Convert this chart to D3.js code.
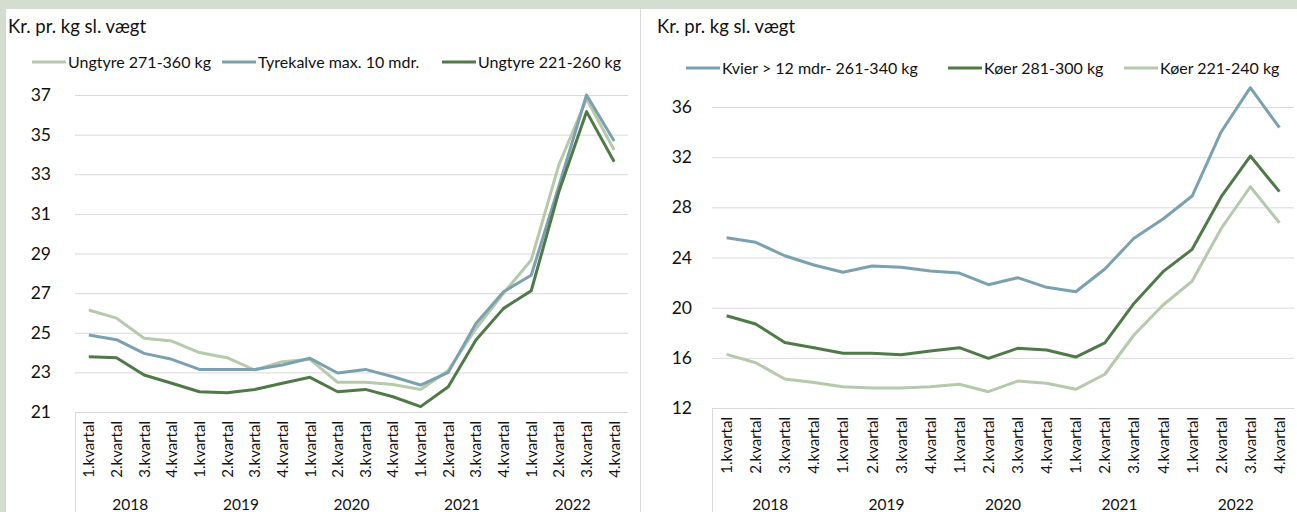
<!DOCTYPE html>
<html>
<head>
<meta charset="utf-8">
<script src="https://cdn.jsdelivr.net/npm/d3@7"></script>
<style>
  body { margin: 0; background: #d3ded0; }
  svg { display: block; font-family: Lato, "Noto Sans", sans-serif; }
</style>
</head>
<body>
<svg id="chart" width="1297" height="512"></svg>
<script>
const years = ['2018', '2019', '2020', '2021', '2022'];
const quarters = ['1.kvartal', '2.kvartal', '3.kvartal', '4.kvartal'];

// left chart
const ungtyre271 = [26.15, 25.74, 24.72, 24.58, 24.0, 23.74, 23.12, 23.54, 23.66, 22.5,
  22.5, 22.39, 22.14, 23.1, 25.2, 27.0, 28.67, 33.47, 36.8, 34.22];
const tyrekalve = [24.89, 24.65, 23.96, 23.66, 23.15, 23.15, 23.15, 23.37, 23.71, 22.97,
  23.15, 22.78, 22.36, 23.0, 25.47, 27.07, 27.9, 32.4, 37.0, 34.68];
const ungtyre221 = [23.79, 23.74, 22.87, 22.45, 22.02, 21.97, 22.14, 22.45, 22.75, 22.02,
  22.14, 21.77, 21.27, 22.27, 24.63, 26.23, 27.12, 32.12, 36.16, 33.63];

// right chart
const kvier = [25.58, 25.21, 24.14, 23.4, 22.82, 23.32, 23.22, 22.92, 22.76, 21.83,
  22.39, 21.62, 21.27, 23.08, 25.53, 27.07, 28.9, 34.03, 37.54, 34.35];
const koer281 = [19.36, 18.7, 17.23, 16.81, 16.36, 16.36, 16.25, 16.54, 16.81, 15.96,
  16.76, 16.62, 16.06, 17.2, 20.34, 22.87, 24.65, 28.85, 32.09, 29.25];
const koer221 = [16.28, 15.61, 14.31, 14.04, 13.7, 13.59, 13.59, 13.7, 13.89, 13.3,
  14.15, 13.97, 13.49, 14.69, 17.82, 20.21, 22.12, 26.32, 29.64, 26.77];

const leftTicks = [21, 23, 25, 27, 29, 31, 33, 35, 37];
const rightTicks = [12, 16, 20, 24, 28, 32, 36];

const colors = { light: '#b5c9ac', blue: '#7ba1ae', dark: '#4f7a48' };

const categories = [];
years.forEach((y) => quarters.forEach((q) => categories.push(`${y}-${q}`)));

const svg = d3.select('#chart');

// panel backgrounds
svg.append('rect').attr('x', 6).attr('y', 9).attr('width', 1291).attr('height', 503).attr('fill', '#fff');
svg.append('line').attr('x1', 640.5).attr('x2', 640.5).attr('y1', 9).attr('y2', 512)
  .attr('stroke', '#d9d9d9');

const drawPanel = (cfg) => {
  const g = svg.append('g');

  const x = d3.scaleBand().domain(categories).range([cfg.left, cfg.right]);
  const y = d3.scaleLinear().domain(cfg.domain).range([cfg.bottom, cfg.top]);

  // title
  g.append('text')
    .attr('x', cfg.titleX)
    .attr('y', 33)
    .attr('font-size', 18.5)
    .attr('fill', '#111')
    .text('Kr. pr. kg sl. vægt');

  // grid + y labels
  const yAxis = g.append('g')
    .attr('transform', `translate(${cfg.left}, 0)`)
    .call(d3.axisLeft(y).tickValues(cfg.ticks).tickSize(-(cfg.right - cfg.left)).tickPadding(cfg.labelPad));
  yAxis.select('.domain').remove();
  yAxis.selectAll('.tick line').attr('stroke', '#d9d9d9');
  yAxis.selectAll('.tick text')
    .attr('font-size', 17.5)
    .attr('font-family', 'Lato, sans-serif')
    .attr('fill', '#111');

  // left boundary running through the label area
  g.append('line')
    .attr('x1', cfg.left + 0.5).attr('x2', cfg.left + 0.5)
    .attr('y1', cfg.bottom).attr('y2', 512)
    .attr('stroke', '#d9d9d9');

  // quarter labels
  g.append('g')
    .selectAll('text')
    .data(categories)
    .join('text')
      .attr('transform', (d) => `translate(${x(d) + x.bandwidth() / 2 + 5.5}, ${cfg.bottom + 9}) rotate(-90)`)
      .attr('text-anchor', 'end')
      .attr('font-size', 15)
      .attr('fill', '#111')
      .text((d) => d.split('-')[1]);

  // year labels
  g.append('g')
    .selectAll('text')
    .data(years)
    .join('text')
      .attr('x', (d) => (x(`${d}-1.kvartal`) + x(`${d}-4.kvartal`) + x.bandwidth()) / 2)
      .attr('y', 510)
      .attr('text-anchor', 'middle')
      .attr('font-size', 15.5)
      .attr('fill', '#111')
      .text((d) => d);

  const line = d3.line()
    .x((d, i) => x(categories[i]) + x.bandwidth() / 2)
    .y((d) => y(d));

  cfg.series.forEach((s) => {
    g.append('path')
      .datum(s.values)
      .attr('fill', 'none')
      .attr('stroke', s.color)
      .attr('stroke-width', 3)
      .attr('stroke-linejoin', 'round')
      .attr('d', line);
  });

  // legend
  cfg.series.forEach((s) => {
    const lg = g.append('g').attr('transform', `translate(${s.legendX}, ${cfg.legendY})`);
    lg.append('line').attr('x1', 0).attr('x2', 34).attr('stroke', s.color).attr('stroke-width', 3);
    lg.append('text')
      .attr('x', 36)
      .attr('y', 5.5)
      .attr('font-size', 16)
      .attr('fill', '#111')
      .text(s.name);
  });
};

drawPanel({
  left: 75,
  right: 628,
  top: 95,
  bottom: 412,
  domain: [21, 37],
  ticks: leftTicks,
  labelPad: 24,
  titleX: 8,
  legendY: 62,
  series: [
    { name: 'Ungtyre 271-360 kg', values: ungtyre271, color: colors.light, legendX: 32 },
    { name: 'Tyrekalve max. 10 mdr.', values: tyrekalve, color: colors.blue, legendX: 222 },
    { name: 'Ungtyre 221-260 kg', values: ungtyre221, color: colors.dark, legendX: 442 }
  ]
});

drawPanel({
  left: 712,
  right: 1294,
  top: 107,
  bottom: 408,
  domain: [12, 36],
  ticks: rightTicks,
  labelPad: 20,
  titleX: 657,
  legendY: 68,
  series: [
    { name: 'Kvier > 12 mdr- 261-340 kg', values: kvier, color: colors.blue, legendX: 686 },
    { name: 'Køer 281-300 kg', values: koer281, color: colors.dark, legendX: 948 },
    { name: 'Køer 221-240 kg', values: koer221, color: colors.light, legendX: 1124 }
  ]
});
</script>
</body>
</html>
